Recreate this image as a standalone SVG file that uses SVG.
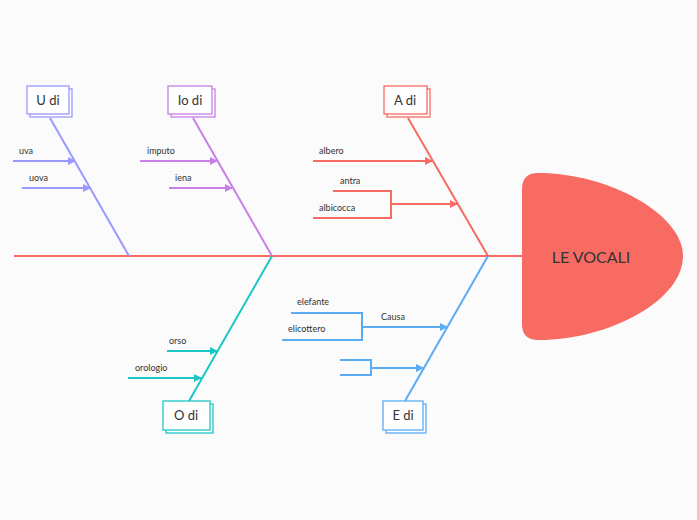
<svg xmlns="http://www.w3.org/2000/svg" width="697" height="520" viewBox="0 0 697 520">
<style>
text{font-family:Lato,"Liberation Sans",sans-serif;fill:#333}
.s{font-size:9px}.b{font-size:13px}
.bx{fill:#fff;stroke-width:1.3}
line,polyline{fill:none;stroke-width:2}
</style>
<defs>
<marker id="u" markerWidth="8" markerHeight="8" refX="7" refY="4" orient="auto" markerUnits="userSpaceOnUse"><path d="M0,0L8,4L0,8z" fill="#9B99FF"/></marker>
<marker id="v" markerWidth="8" markerHeight="8" refX="7" refY="4" orient="auto" markerUnits="userSpaceOnUse"><path d="M0,0L8,4L0,8z" fill="#C87FE8"/></marker>
<marker id="r" markerWidth="8" markerHeight="8" refX="7" refY="4" orient="auto" markerUnits="userSpaceOnUse"><path d="M0,0L8,4L0,8z" fill="#F76B63"/></marker>
<marker id="c" markerWidth="8" markerHeight="8" refX="7" refY="4" orient="auto" markerUnits="userSpaceOnUse"><path d="M0,0L8,4L0,8z" fill="#1BC6C6"/></marker>
<marker id="e" markerWidth="8" markerHeight="8" refX="7" refY="4" orient="auto" markerUnits="userSpaceOnUse"><path d="M0,0L8,4L0,8z" fill="#5AACF5"/></marker>
</defs>
<rect width="697" height="520" fill="#FBFBFB"/>
<g id="connectors">
<line x1="14" y1="256" x2="524" y2="256" stroke="#F76B63" stroke-width="2.5"/>
<line x1="50" y1="118" x2="129" y2="256" stroke="#9B99FF"/>
<line x1="13" y1="161" x2="75" y2="161" stroke="#9B99FF" marker-end="url(#u)"/>
<line x1="22" y1="188" x2="90" y2="188" stroke="#9B99FF" marker-end="url(#u)"/>
<line x1="193" y1="118" x2="272" y2="256" stroke="#C87FE8"/>
<line x1="140" y1="161" x2="217" y2="161" stroke="#C87FE8" marker-end="url(#v)"/>
<line x1="169" y1="188" x2="232" y2="188" stroke="#C87FE8" marker-end="url(#v)"/>
<line x1="408" y1="118" x2="488" y2="256" stroke="#F76B63"/>
<line x1="313" y1="161" x2="432" y2="161" stroke="#F76B63" marker-end="url(#r)"/>
<polyline points="333,191 391,191 391,218 313,218" stroke="#F76B63"/>
<line x1="391" y1="204" x2="457" y2="204" stroke="#F76B63" marker-end="url(#r)"/>
<line x1="272" y1="256" x2="189" y2="401" stroke="#1BC6C6"/>
<line x1="167" y1="351" x2="217" y2="351" stroke="#1BC6C6" marker-end="url(#c)"/>
<line x1="128" y1="378" x2="201" y2="378" stroke="#1BC6C6" marker-end="url(#c)"/>
<line x1="488" y1="256" x2="405" y2="401" stroke="#5AACF5"/>
<polyline points="291,313 362,313 362,340 282,340" stroke="#5AACF5"/>
<line x1="362" y1="327" x2="447" y2="327" stroke="#5AACF5" marker-end="url(#e)"/>
<polyline points="340,360 371,360 371,375 340,375" stroke="#5AACF5"/>
<line x1="371" y1="368" x2="423" y2="368" stroke="#5AACF5" marker-end="url(#e)"/>
</g>
<g id="labels" class="s">
<text x="19" y="154">uva</text><text x="29" y="181">uova</text>
<text x="147" y="154">imputo</text><text x="175" y="181">iena</text>
<text x="319" y="154">albero</text><text x="340" y="184">antra</text><text x="319" y="211">albicocca</text>
<text x="169" y="344">orso</text><text x="135" y="371">orologio</text>
<text x="297" y="305">elefante</text><text x="288" y="332">elicottero</text><text x="381" y="320">Causa</text>
</g>
<g id="head"><path d="M538,173 C610,173 683,215 683,256 C683,300 610,340 538,340 Q522,340 522,324 L522,189 Q522,173 538,173Z" fill="#F76B63"/><text x="591" y="263" text-anchor="middle" style="font-size:16px">LE VOCALI</text></g>
<g id="u-di" stroke="#9B99FF"><rect class="bx" x="30" y="89" width="42" height="28"/><rect class="bx" x="27" y="86" width="42" height="28"/><text class="b" x="48" y="105" text-anchor="middle" stroke="none">U di</text></g>
<g id="io-di" stroke="#C87FE8"><rect class="bx" x="171" y="89" width="44" height="28"/><rect class="bx" x="168" y="86" width="44" height="28"/><text class="b" x="190" y="105" text-anchor="middle" stroke="none">Io di</text></g>
<g id="a-di" stroke="#F76B63"><rect class="bx" x="387" y="89" width="43" height="28"/><rect class="bx" x="384" y="86" width="43" height="28"/><text class="b" x="405" y="105" text-anchor="middle" stroke="none">A di</text></g>
<g id="o-di" stroke="#1BC6C6"><rect class="bx" x="166" y="404" width="47" height="29"/><rect class="bx" x="163" y="401" width="47" height="29"/><text class="b" x="186" y="420" text-anchor="middle" stroke="none">O di</text></g>
<g id="e-di" stroke="#5AACF5"><rect class="bx" x="386" y="404" width="40" height="29"/><rect class="bx" x="383" y="401" width="40" height="29"/><text class="b" x="403" y="420" text-anchor="middle" stroke="none">E di</text></g>
</svg>
